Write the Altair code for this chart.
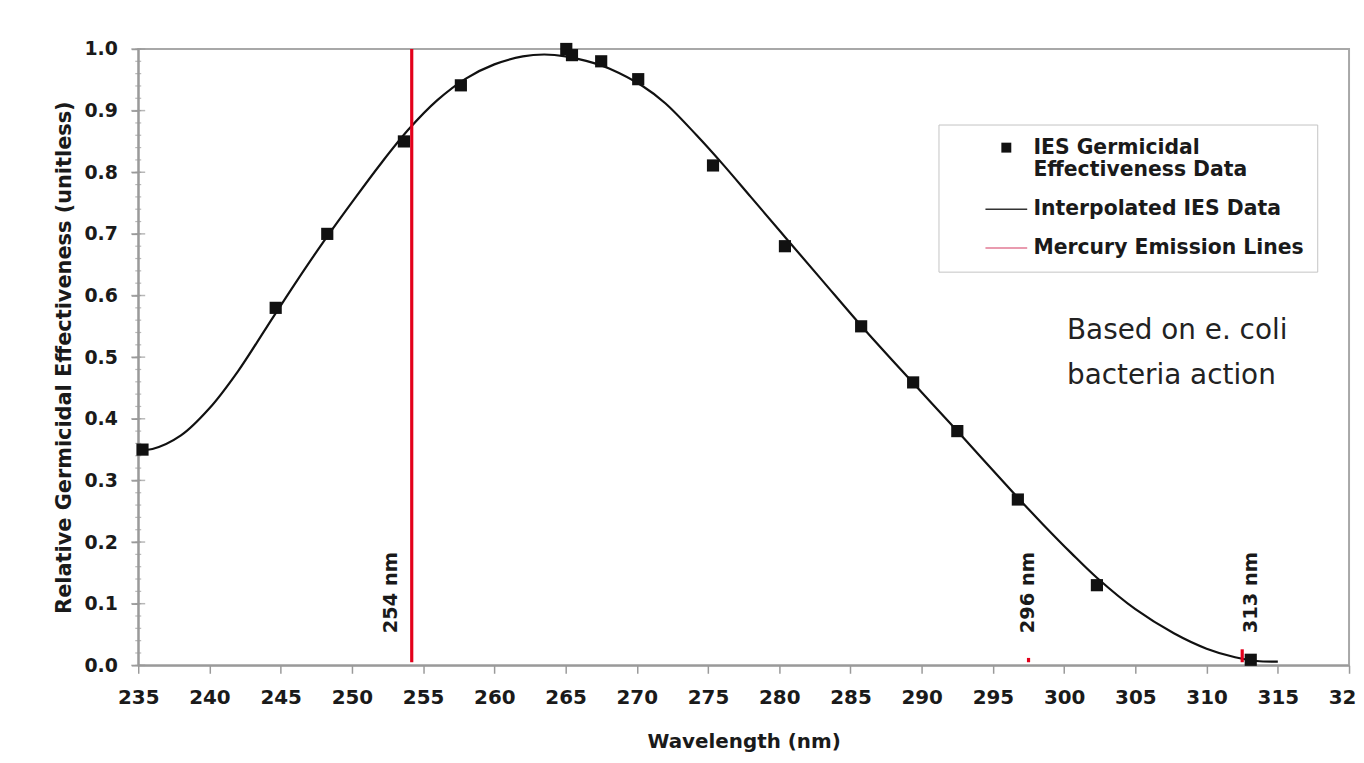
import altair as alt
import pandas as pd

# ---- data ----
wl_pts = [235.3, 244.65, 248.27, 253.65, 257.65, 265.05, 265.45, 267.5, 270.1,
          275.35, 280.4, 285.75, 289.4, 292.5, 296.75, 302.3, 313.1]
eff_pts = [0.35, 0.58, 0.70, 0.85, 0.941, 1.00, 0.99, 0.98, 0.951,
           0.811, 0.68, 0.55, 0.459, 0.38, 0.269, 0.13, 0.009]

curve_wl = [235.3, 236.0, 238.0, 240.0, 242.0, 244.0, 246.0, 248.0, 250.0, 252.0,
            254.0, 256.0, 258.0, 260.0, 262.0, 263.5, 265.0, 267.0, 268.1, 270.4,
            272.0, 274.2, 276.0, 278.0, 280.4, 283.0, 285.75, 289.4, 292.5, 296.75,
            298.5, 300.5, 302.3, 305.0, 307.7, 310.0, 312.0, 313.5, 315.0]
curve_eff = [0.350, 0.351, 0.373, 0.417, 0.477, 0.548, 0.619, 0.687, 0.751, 0.813,
             0.870, 0.917, 0.952, 0.975, 0.988, 0.991, 0.988, 0.977, 0.968, 0.940,
             0.912, 0.860, 0.814, 0.760, 0.695, 0.625, 0.551, 0.458, 0.380, 0.272,
             0.229, 0.182, 0.142, 0.091, 0.052, 0.027, 0.013, 0.007, 0.006]

hg_wl = [254.2, 297.5, 312.5]
hg_top = [1.0, 0.012, 0.026]
hg_base = [0.005, 0.005, 0.005]

hg_labels = ["254 nm", "296 nm", "313 nm"]
hg_label_wl = [252.75, 297.5, 313.1]
hg_label_eff = [0.052, 0.052, 0.052]

note_lines = ["Based on e. coli", "bacteria action"]
note_wl = [300.2, 300.2]
note_eff = [0.542, 0.469]

x_ticks = list(range(235, 321, 5))
y_major = [round(i * 0.1, 1) for i in range(11)]
y_minor = [round(i * 0.02, 2) for i in range(51)]

series_names = ["IES Germicidal Effectiveness Data", "Interpolated IES Data",
                "Mercury Emission Lines"]
legend_fill = ["#111111", "transparent", "transparent"]
legend_stroke = ["transparent", "#333333", "#e27a95"]
legend_shape = ["square", "M-4.2,0H4.2", "M-4.2,0H4.2"]

# ---- tables ----
pts_df = pd.DataFrame({"wl": wl_pts, "eff": eff_pts, "series": series_names[0]})
curve_df = pd.DataFrame({"wl": curve_wl, "eff": curve_eff})
hg_df = pd.DataFrame({"wl": hg_wl, "eff": hg_base, "top": hg_top})
hgl_df = pd.DataFrame({"wl": hg_label_wl, "eff": hg_label_eff, "label": hg_labels})
note_df = pd.DataFrame({"wl": note_wl, "eff": note_eff, "label": note_lines})
ymaj_df = pd.DataFrame({"eff": y_major})
ymin_df = pd.DataFrame({"eff": y_minor})

FONT = "DejaVu Sans"
AXIS_GRAY = "#9a9a9a"
TEXT = "#1a1a1a"

xscale = alt.Scale(domain=[235, 320], nice=False, zero=False)
yscale = alt.Scale(domain=[0, 1], nice=False, zero=False)

x_enc = alt.X("wl:Q", scale=xscale,
              axis=alt.Axis(values=x_ticks, format="d", title="Wavelength (nm)",
                            labelFontSize=20,
                            tickSize=8, tickColor=AXIS_GRAY, tickWidth=1.5,
                            labelPadding=14, titlePadding=25, grid=False,
                            labelFlush=False, labelOverlap=False))
y_enc = alt.Y("eff:Q", scale=yscale,
              axis=alt.Axis(values=y_major, format=".1f",
                            title="Relative Germicidal Effectiveness (unitless)",
                            titleFontSize=21,
                            tickSize=7, tickColor=AXIS_GRAY, tickWidth=1.5,
                            labelPadding=14, titlePadding=9, grid=False,
                            labelFlush=False, labelOverlap=False))

first = series_names[0]
legend = alt.Legend(
    title=None, orient="none", legendX=805, legendY=76,
    padding=13, strokeColor="#c4c4c4", fillColor="white",
    symbolSize=100, symbolOffset=45, labelOffset=17, rowPadding=18,
    symbolStrokeWidth=1.6, symbolOpacity=1,
    labelFont=FONT, labelFontSize=20.5, labelFontWeight="bold", labelColor=TEXT,
    labelLimit=500,
    labelExpr=f"datum.label == '{first}' ? ['IES Germicidal', 'Effectiveness Data'] : datum.label",
)

curve = alt.Chart(curve_df).mark_line(color="#111111", strokeWidth=2.2,
                                      interpolate="catmull-rom").encode(x=x_enc, y=y_enc)

hg = alt.Chart(hg_df).mark_rule(color="#e3001b", strokeWidth=3.2).encode(
    x=x_enc, y=y_enc, y2="top:Q")

pts = alt.Chart(pts_df).mark_point(size=150, opacity=1, strokeWidth=1.6).encode(
    x=x_enc, y=y_enc,
    shape=alt.Shape("series:N", title=None,
                    scale=alt.Scale(domain=series_names, range=legend_shape),
                    legend=legend),
    fill=alt.Fill("series:N", title=None,
                  scale=alt.Scale(domain=series_names, range=legend_fill),
                  legend=legend),
    stroke=alt.Stroke("series:N", title=None,
                      scale=alt.Scale(domain=series_names, range=legend_stroke),
                      legend=legend),
)

major_ticks = alt.Chart(ymaj_df).mark_tick(orient="horizontal", size=14, thickness=1.5,
                                           color=AXIS_GRAY).encode(
    x=alt.X(datum=235, scale=xscale), y=y_enc)
minor_ticks = alt.Chart(ymin_df).mark_tick(orient="horizontal", size=6, thickness=1.2,
                                           color=AXIS_GRAY).encode(
    x=alt.X(datum=235, scale=xscale), y=y_enc)

hg_text = alt.Chart(hgl_df).mark_text(angle=270, align="left", baseline="middle",
                                      font=FONT, fontWeight="bold", fontSize=19.5,
                                      color=TEXT).encode(
    x=x_enc, y=y_enc, text="label:N")

note = alt.Chart(note_df).mark_text(align="left", baseline="middle", font=FONT,
                                    fontSize=28, color="#222222").encode(
    x=x_enc, y=y_enc, text="label:N")

chart = alt.layer(minor_ticks, major_ticks, curve, hg, pts, hg_text, note).properties(
    width=1218, height=620,
    autosize=alt.AutoSizeParams(type="none"),
    padding={"left": 131, "top": 39, "right": 7, "bottom": 88},
    background="white",
).configure_view(
    stroke="#a8a8a8", strokeWidth=2
).configure_axis(
    labelFont=FONT, labelFontSize=19, labelFontWeight="bold", labelColor=TEXT,
    titleFont=FONT, titleFontSize=20, titleFontWeight="bold", titleColor=TEXT,
    domainColor=AXIS_GRAY, domainWidth=2,
)

chart.save("out.html", embed_options={"renderer": "svg", "actions": False})
